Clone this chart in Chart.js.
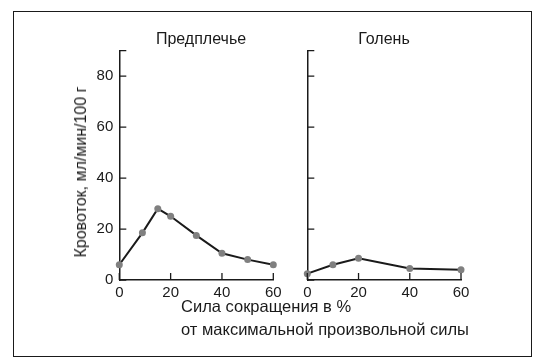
<!DOCTYPE html>
<html>
<head>
<meta charset="utf-8">
<script src="https://cdn.jsdelivr.net/npm/chart.js@4/dist/chart.umd.min.js"></script>
<style>
  html, body { margin:0; padding:0; background:#fff; }
  #wrap { position:relative; width:549px; height:364px; overflow:hidden; font-family:"Liberation Sans", Arial, sans-serif; color:#1a1a1a; }
  canvas { position:absolute; left:0; top:0; }
  .frame { position:absolute; left:13px; top:11px; width:519px; height:346px; border:1.5px solid #1a1a1a; box-sizing:border-box; }
  .t { position:absolute; font-size:16px; white-space:nowrap; line-height:18px; }
  .x { font-size:16.5px; line-height:19px; }
</style>
</head>
<body>
<div id="wrap">
  <div class="frame"></div>
  <canvas id="c1" width="549" height="364"></canvas>
  <canvas id="c2" width="549" height="364"></canvas>
  <div class="t" style="left:201px; top:29.5px; transform:translateX(-50%);">Предплечье</div>
  <div class="t" style="left:384px; top:29.5px; transform:translateX(-50%);">Голень</div>
  <div class="t" style="left:80.5px; top:172px; transform:translate(-50%,-50%) rotate(-90deg);">Кровоток, мл/мин/100 г</div>
  <div class="t x" style="left:181px; top:296.5px;">Сила сокращения в %</div>
  <div class="t x" style="left:181px; top:319.8px;">от максимальной произвольной силы</div>
</div>
<script>
// ---- data ----
const forearmX = [0, 9, 15, 20, 30, 40, 50, 60];
const forearmY = [6, 18.5, 28, 25, 17.5, 10.5, 8, 6];
const legX = [0, 10, 20, 40, 60];
const legY = [2.5, 6, 8.5, 4.5, 4];
const yTicks = [0, 20, 40, 60, 80, 90];
const yTickLabels = ['0', '20', '40', '60', '80', ''];
const xTicks = [0, 20, 40, 60];

const INK = '#1a1a1a';
const FONT = { family: '"Liberation Sans", Arial, sans-serif', size: 15 };

const inwardTicks = {
  id: 'inwardTicks',
  afterDraw(chart) {
    const ctx = chart.ctx, a = chart.chartArea, xs = chart.scales.x, ys = chart.scales.y;
    ctx.save();
    ctx.strokeStyle = INK; ctx.lineWidth = 1.3;
    ctx.beginPath();
    ys.ticks.forEach(t => { const p = ys.getPixelForValue(t.value); ctx.moveTo(a.left, p); ctx.lineTo(a.left + 7, p); });
    xs.ticks.forEach(t => { const p = xs.getPixelForValue(t.value); ctx.moveTo(p, a.bottom); ctx.lineTo(p, a.bottom - 7); });
    ctx.stroke();
    ctx.restore();
  }
};

function makeChart(id, xs, ys, showYLabels, pad, yWidth) {
  return new Chart(document.getElementById(id), {
    type: 'line',
    data: {
      datasets: [{
        data: xs.map((x, i) => ({ x: x, y: ys[i] })),
        borderColor: INK, borderWidth: 2, tension: 0,
        pointBackgroundColor: '#808080', pointBorderWidth: 0, pointRadius: 3.5,
        clip: false
      }]
    },
    options: {
      responsive: false, animation: false,
      layout: { padding: pad },
      plugins: { legend: { display: false }, tooltip: { enabled: false }, title: { display: false } },
      scales: {
        x: {
          type: 'linear', min: 0, max: 60,
          afterBuildTicks: s => { s.ticks = xTicks.map(v => ({ value: v })); },
          afterFit: s => { s.height = 84; },
          grid: { display: false, drawTicks: false },
          border: { display: true, color: INK, width: 1.5 },
          ticks: { color: INK, font: FONT, padding: 4, maxRotation: 0 }
        },
        y: {
          type: 'linear', min: 0, max: 90,
          afterBuildTicks: s => { s.ticks = yTicks.map(v => ({ value: v })); },
          afterFit: s => { s.width = yWidth; },
          grid: { display: false, drawTicks: false },
          border: { display: true, color: INK, width: 1.5 },
          ticks: { display: showYLabels, color: INK, font: FONT, padding: 6,
                   callback: (v) => yTickLabels[yTicks.indexOf(v)] }
        }
      }
    },
    plugins: [inwardTicks]
  });
}

makeChart('c1', forearmX, forearmY, true, { left: 60, right: 275.7, top: 50.7, bottom: 0 }, 59.3);
makeChart('c2', legX, legY, false, { left: 297.3, right: 88, top: 50.7, bottom: 0 }, 10);
</script>
</body>
</html>
